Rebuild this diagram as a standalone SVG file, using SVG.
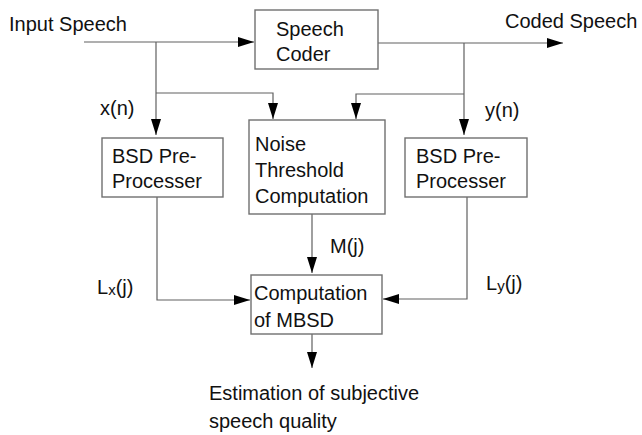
<svg xmlns="http://www.w3.org/2000/svg" width="642" height="435" viewBox="0 0 642 435">
<defs>
<marker id="ah" markerWidth="16" markerHeight="10" refX="16" refY="5" orient="auto" markerUnits="userSpaceOnUse">
<path d="M0,0 L16,5 L0,10 Z" fill="#000"/>
</marker>
</defs>
<style>
text{font-family:"Liberation Sans",Arial,sans-serif;font-size:20px;fill:#111}
.box{fill:#fff;stroke:#707070;stroke-width:1.4}
.ln{fill:none;stroke:#606060;stroke-width:1.2}
.sub{font-size:15px}
</style>
<rect width="642" height="435" fill="#fff"/>
<g id="connectors">
<path class="ln" d="M84,42 H254" marker-end="url(#ah)"/>
<path class="ln" d="M156,42 V135" marker-end="url(#ah)"/>
<path class="ln" d="M156,93 H273 V119" marker-end="url(#ah)"/>
<path class="ln" d="M378,43 H563" marker-end="url(#ah)"/>
<path class="ln" d="M464,43 V135" marker-end="url(#ah)"/>
<path class="ln" d="M464,94 H356 V119" marker-end="url(#ah)"/>
<path class="ln" d="M157,197 V300 H250" marker-end="url(#ah)"/>
<path class="ln" d="M467,197 V299 H383" marker-end="url(#ah)"/>
<path class="ln" d="M312,214 V273" marker-end="url(#ah)"/>
<path class="ln" d="M312,334 V368" marker-end="url(#ah)"/>
</g>
<g id="coder">
<rect class="box" x="255" y="10" width="123" height="59"/>
<text x="276" y="36">Speech</text>
<text x="276" y="61">Coder</text>
</g>
<g id="bsd-left">
<rect class="box" x="102" y="138" width="121" height="59"/>
<text x="112" y="163">BSD Pre-</text>
<text x="112" y="188">Processer</text>
</g>
<g id="noise">
<rect class="box" x="249" y="120" width="136" height="94"/>
<text x="255" y="151">Noise</text>
<text x="255" y="177">Threshold</text>
<text x="255" y="203">Computation</text>
</g>
<g id="bsd-right">
<rect class="box" x="405" y="138" width="122" height="59"/>
<text x="416" y="163">BSD Pre-</text>
<text x="416" y="188">Processer</text>
</g>
<g id="mbsd">
<rect class="box" x="251" y="275" width="131" height="59"/>
<text x="254" y="300">Computation</text>
<text x="254" y="327">of MBSD</text>
</g>
<g id="labels">
<text x="9" y="31">Input Speech</text>
<text x="505" y="28">Coded Speech</text>
<text x="100" y="115">x(n)</text>
<text x="485" y="117">y(n)</text>
<text x="330" y="253">M(j)</text>
<text x="97" y="294">L<tspan class="sub" dy="1">x</tspan><tspan dy="-1">(j)</tspan></text>
<text x="486" y="290">L<tspan class="sub" dy="1">y</tspan><tspan dy="-1">(j)</tspan></text>
<text x="209" y="400">Estimation of subjective</text>
<text x="209" y="428">speech quality</text>
</g>
</svg>
